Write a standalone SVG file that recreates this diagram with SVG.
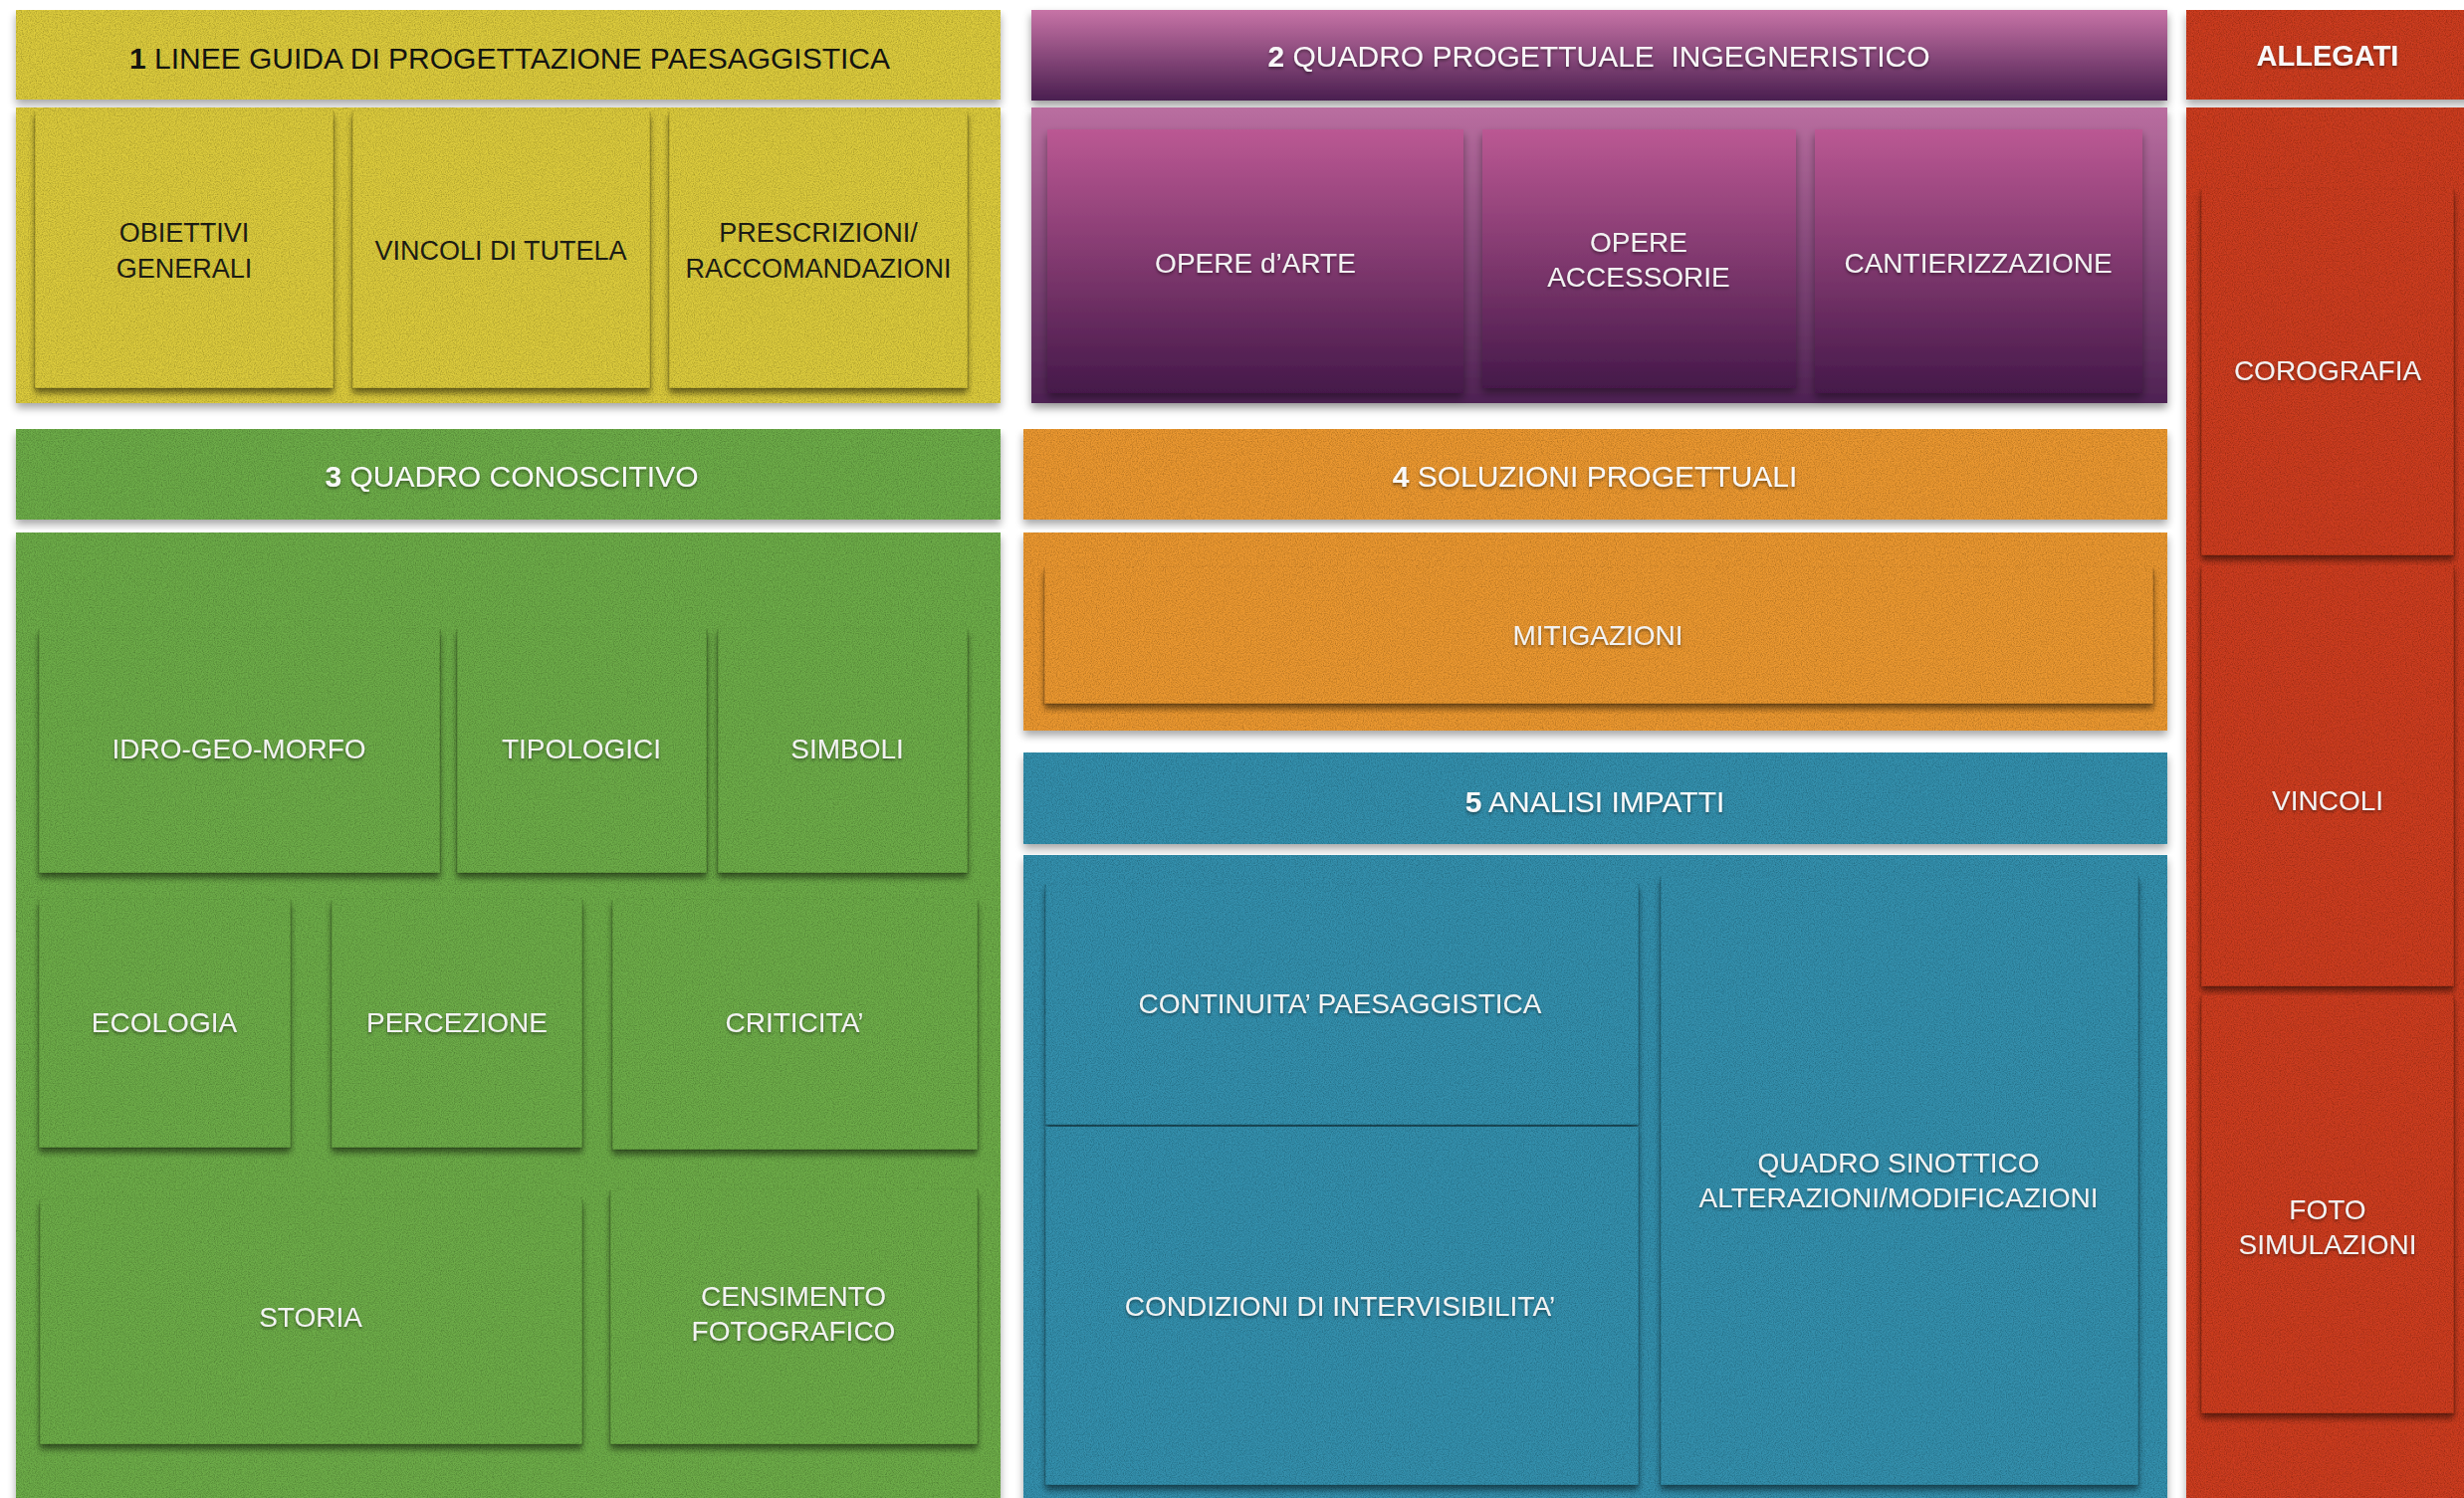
<svg xmlns="http://www.w3.org/2000/svg" width="2475" height="1505" viewBox="0 0 2475 1505">
<defs>
<style>
text{font-family:"Liberation Sans",Arial,Helvetica,sans-serif;text-anchor:middle}
.lbl{font-size:28px;fill:#f2f2f2;filter:url(#ts)}
.dlbl{font-size:27px;fill:#1c1c14}
.ttl{font-size:30px;fill:#f8f8f8;filter:url(#ts)}
.dttl{font-size:30px;fill:#141410}
.b{font-weight:bold}
.card{stroke:#000;stroke-opacity:.13;stroke-width:1.5}
.yel{fill:#dccb3c}
.grn{fill:#6dac48}
.org{fill:#eb9832}
.blu{fill:#3490ad}
.red{fill:#cc3d22}
</style>
<filter id="felt" x="-3%" y="-5%" width="106%" height="115%">
<feTurbulence type="fractalNoise" baseFrequency="0.85" numOctaves="2" seed="4" result="n"/>
<feColorMatrix in="n" type="matrix" values="0 0 0 0 0  0 0 0 0 0  0 0 0 0 0  0.9 0 0 0 -0.33" result="sp"/>
<feComposite in="sp" in2="SourceGraphic" operator="in" result="spi"/>
<feGaussianBlur in="SourceAlpha" stdDeviation="4"/>
<feOffset dy="5" result="o"/>
<feComponentTransfer in="o" result="sh"><feFuncA type="linear" slope="0.35"/></feComponentTransfer>
<feMerge><feMergeNode in="sh"/><feMergeNode in="SourceGraphic"/><feMergeNode in="spi"/></feMerge>
</filter>
<filter id="cardf" x="-3%" y="-5%" width="106%" height="112%">
<feTurbulence type="fractalNoise" baseFrequency="0.85" numOctaves="2" seed="9" result="n"/>
<feColorMatrix in="n" type="matrix" values="0 0 0 0 0  0 0 0 0 0  0 0 0 0 0  0.9 0 0 0 -0.33" result="sp"/>
<feComposite in="sp" in2="SourceGraphic" operator="in" result="spi"/>
<feGaussianBlur in="SourceAlpha" stdDeviation="3"/>
<feOffset dy="5" result="o"/>
<feComponentTransfer in="o" result="sh"><feFuncA type="linear" slope="0.5"/></feComponentTransfer>
<feMerge><feMergeNode in="sh"/><feMergeNode in="SourceGraphic"/><feMergeNode in="spi"/></feMerge>
</filter>
<filter id="sh" x="-3%" y="-5%" width="106%" height="115%">
<feDropShadow dx="0" dy="5" stdDeviation="4" flood-color="#000" flood-opacity="0.4"/>
</filter>
<filter id="ts" x="-5%" y="-30%" width="110%" height="160%">
<feDropShadow dx="0" dy="2" stdDeviation="1.5" flood-color="#000" flood-opacity="0.45"/>
</filter>
<linearGradient id="pHead" x1="0" y1="0" x2="0" y2="1">
<stop offset="0" stop-color="#c773a6"/><stop offset="1" stop-color="#4a1f50"/>
</linearGradient>
<linearGradient id="pBody" x1="0" y1="0" x2="0" y2="1">
<stop offset="0" stop-color="#ba6ea0"/><stop offset="1" stop-color="#4e2253"/>
</linearGradient>
<linearGradient id="pCard" x1="0" y1="0" x2="0" y2="1">
<stop offset="0" stop-color="#bb5893"/><stop offset="1" stop-color="#45194a"/>
</linearGradient>
</defs>
<rect width="2475" height="1505" fill="#ffffff"/>

<!-- 1 LINEE GUIDA -->
<g id="sec1">
<rect class="yel" x="16" y="10" width="989" height="90" filter="url(#felt)"/>
<text class="dttl" x="512" y="69"><tspan class="b">1</tspan> LINEE GUIDA DI PROGETTAZIONE PAESAGGISTICA</text>
<rect class="yel" x="16" y="108" width="989" height="297" filter="url(#felt)"/>
</g>
<g id="obiettivi">
<rect class="yel card" x="35" y="112" width="300" height="278" style="stroke-dasharray:0 300 856" filter="url(#cardf)"/>
<text class="dlbl" x="185" y="243">OBIETTIVI</text>
<text class="dlbl" x="185" y="279">GENERALI</text>
</g>
<g id="vincoli-tutela">
<rect class="yel card" x="354" y="112" width="299" height="278" style="stroke-dasharray:0 299 855" filter="url(#cardf)"/>
<text class="dlbl" x="503" y="261">VINCOLI DI TUTELA</text>
</g>
<g id="prescrizioni">
<rect class="yel card" x="672" y="112" width="300" height="278" style="stroke-dasharray:0 300 856" filter="url(#cardf)"/>
<text class="dlbl" x="822" y="243">PRESCRIZIONI/</text>
<text class="dlbl" x="822" y="279">RACCOMANDAZIONI</text>
</g>

<!-- 2 QUADRO PROGETTUALE -->
<g id="sec2">
<rect x="1036" y="10" width="1141" height="91" fill="url(#pHead)" filter="url(#sh)"/>
<text class="ttl" x="1606" y="67" xml:space="preserve"><tspan class="b">2</tspan> QUADRO PROGETTUALE  INGEGNERISTICO</text>
<rect x="1036" y="108" width="1141" height="297" fill="url(#pBody)" filter="url(#sh)"/>
</g>
<g id="opere-arte">
<rect x="1052" y="130" width="418" height="265" fill="url(#pCard)" filter="url(#sh)"/>
<text class="lbl" x="1261" y="274">OPERE d’ARTE</text>
</g>
<g id="opere-accessorie">
<rect x="1489" y="130" width="315" height="260" fill="url(#pCard)" filter="url(#sh)"/>
<text class="lbl" x="1646" y="253">OPERE</text>
<text class="lbl" x="1646" y="288">ACCESSORIE</text>
</g>
<g id="cantierizzazione">
<rect x="1823" y="130" width="329" height="265" fill="url(#pCard)" filter="url(#sh)"/>
<text class="lbl" x="1987" y="274">CANTIERIZZAZIONE</text>
</g>

<!-- ALLEGATI -->
<g id="allegati">
<rect class="red" x="2196" y="10" width="290" height="90" filter="url(#felt)"/>
<text class="ttl b" x="2338" y="66" style="font-size:29px">ALLEGATI</text>
<rect class="red" x="2196" y="108" width="290" height="1410" filter="url(#felt)"/>
</g>
<g id="corografia">
<rect class="red card" x="2211" y="190" width="254" height="368" style="stroke-dasharray:0 254 990" filter="url(#cardf)"/>
<text class="lbl" x="2338" y="382">COROGRAFIA</text>
</g>
<g id="vincoli">
<rect class="red card" x="2211" y="568" width="254" height="423" style="stroke-dasharray:0 254 1100" filter="url(#cardf)"/>
<text class="lbl" x="2338" y="814">VINCOLI</text>
</g>
<g id="foto-simulazioni">
<rect class="red card" x="2211" y="1000" width="254" height="420" style="stroke-dasharray:0 254 1094" filter="url(#cardf)"/>
<text class="lbl" x="2338" y="1225">FOTO</text>
<text class="lbl" x="2338" y="1260">SIMULAZIONI</text>
</g>

<!-- 3 QUADRO CONOSCITIVO -->
<g id="sec3">
<rect class="grn" x="16" y="431" width="989" height="91" filter="url(#felt)"/>
<text class="ttl" x="514" y="489"><tspan class="b">3</tspan> QUADRO CONOSCITIVO</text>
<rect class="grn" x="16" y="535" width="989" height="990" filter="url(#felt)"/>
</g>
<g id="idro-geo-morfo">
<rect class="grn card" x="39" y="632" width="403" height="245" style="stroke-dasharray:0 403 893" filter="url(#cardf)"/>
<text class="lbl" x="240" y="762">IDRO-GEO-MORFO</text>
</g>
<g id="tipologici">
<rect class="grn card" x="459" y="632" width="251" height="245" style="stroke-dasharray:0 251 741" filter="url(#cardf)"/>
<text class="lbl" x="584" y="762">TIPOLOGICI</text>
</g>
<g id="simboli">
<rect class="grn card" x="721" y="632" width="251" height="245" style="stroke-dasharray:0 251 741" filter="url(#cardf)"/>
<text class="lbl" x="851" y="762">SIMBOLI</text>
</g>
<g id="ecologia">
<rect class="grn card" x="39" y="904" width="253" height="249" style="stroke-dasharray:0 253 751" filter="url(#cardf)"/>
<text class="lbl" x="165" y="1037">ECOLOGIA</text>
</g>
<g id="percezione">
<rect class="grn card" x="333" y="904" width="252" height="249" style="stroke-dasharray:0 252 750" filter="url(#cardf)"/>
<text class="lbl" x="459" y="1037">PERCEZIONE</text>
</g>
<g id="criticita">
<rect class="grn card" x="615" y="904" width="367" height="251" style="stroke-dasharray:0 367 869" filter="url(#cardf)"/>
<text class="lbl" x="798" y="1037">CRITICITA’</text>
</g>
<g id="storia">
<rect class="grn card" x="40" y="1205" width="545" height="246" style="stroke-dasharray:0 545 1037" filter="url(#cardf)"/>
<text class="lbl" x="312" y="1333">STORIA</text>
</g>
<g id="censimento">
<rect class="grn card" x="613" y="1195" width="369" height="256" style="stroke-dasharray:0 369 881" filter="url(#cardf)"/>
<text class="lbl" x="797" y="1312">CENSIMENTO</text>
<text class="lbl" x="797" y="1347">FOTOGRAFICO</text>
</g>

<!-- 4 SOLUZIONI PROGETTUALI -->
<g id="sec4">
<rect class="org" x="1028" y="431" width="1149" height="91" filter="url(#felt)"/>
<text class="ttl" x="1602" y="489"><tspan class="b">4</tspan> SOLUZIONI PROGETTUALI</text>
<rect class="org" x="1028" y="535" width="1149" height="199" filter="url(#felt)"/>
</g>
<g id="mitigazioni">
<rect class="org card" x="1049" y="570" width="1114" height="137" style="stroke-dasharray:0 1114 1388" filter="url(#cardf)"/>
<text class="lbl" x="1605" y="648">MITIGAZIONI</text>
</g>

<!-- 5 ANALISI IMPATTI -->
<g id="sec5">
<rect class="blu" x="1028" y="756" width="1149" height="92" filter="url(#felt)"/>
<text class="ttl" x="1602" y="816"><tspan class="b">5</tspan> ANALISI IMPATTI</text>
<rect class="blu" x="1028" y="859" width="1149" height="670" filter="url(#felt)"/>
</g>
<g id="continuita">
<rect class="blu card" x="1050" y="888" width="596" height="242" style="stroke-dasharray:0 596 1080" filter="url(#cardf)"/>
<text class="lbl" x="1346" y="1018">CONTINUITA’ PAESAGGISTICA</text>
</g>
<g id="condizioni">
<rect class="blu card" x="1050" y="1132" width="596" height="360" style="stroke-dasharray:0 596 1316" filter="url(#cardf)"/>
<text class="lbl" x="1346" y="1322">CONDIZIONI DI INTERVISIBILITA’</text>
</g>
<g id="quadro-sinottico">
<rect class="blu card" x="1668" y="880" width="480" height="612" style="stroke-dasharray:0 480 1704" filter="url(#cardf)"/>
<text class="lbl" x="1907" y="1178">QUADRO SINOTTICO</text>
<text class="lbl" x="1907" y="1213">ALTERAZIONI/MODIFICAZIONI</text>
</g>

<g id="connectors"/>
</svg>
